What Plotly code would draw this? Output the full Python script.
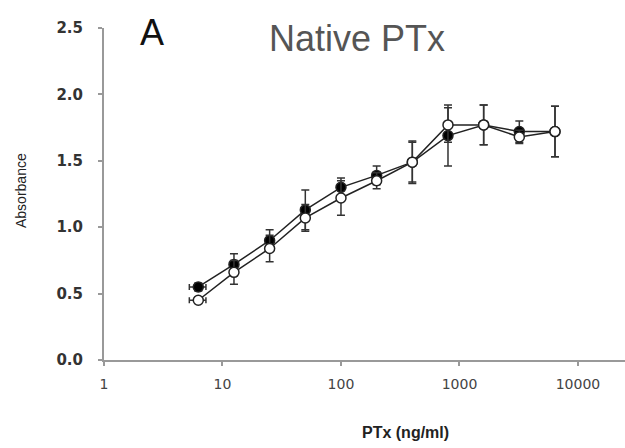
import plotly.graph_objects as go

conc = [6.25, 12.5, 25, 50, 100, 200, 400, 800, 1600, 3200, 6400]
filled_y = [0.55, 0.72, 0.90, 1.13, 1.30, 1.39, 1.49, 1.69, 1.77, 1.72, 1.72]
filled_err = [0.03, 0.08, 0.08, 0.15, 0.07, 0.07, 0.15, 0.23, 0.15, 0.08, 0.19]
open_y = [0.45, 0.66, 0.84, 1.07, 1.22, 1.35, 1.49, 1.77, 1.77, 1.68, 1.72]
open_err = [0.02, 0.09, 0.10, 0.10, 0.13, 0.06, 0.16, 0.13, 0.15, 0.05, 0.19]
conc_err = [1.0, 0, 0, 0, 0, 0, 0, 0, 0, 0, 0]
x_ticks = [1, 10, 100, 1000, 10000]
y_ticks = [0.0, 0.5, 1.0, 1.5, 2.0, 2.5]

ML, MR, MT, MB = 104, 0, 28, 88
W, H = 625, 448
pw, ph = W - ML - MR, H - MT - MB

def px(x, y):
    return (x - ML) / pw, 1 - (y - MT) / ph

fig = go.Figure()
for y, err, fill in [(filled_y, filled_err, "black"), (open_y, open_err, "white")]:
    fig.add_trace(go.Scatter(
        x=conc, y=y, mode="lines+markers",
        line=dict(color="#222", width=1.5),
        marker=dict(size=10, color=fill, line=dict(color="#222", width=1.5)),
        error_y=dict(type="data", array=err, visible=True, color="#333", thickness=1.5, width=4),
        error_x=dict(type="data", array=conc_err, visible=True, color="#333", thickness=1.5, width=3),
        showlegend=False, cliponaxis=False,
    ))

annotations = []
for text, x, y, size, color, family, angle in [
    ("A", 152, 33, 36, "#111", "Liberation Sans", 0),
    ("Native PTx", 357, 38, 36, "#555", "Liberation Sans", 0),
    ("<b>PTx (ng/ml)</b>", 405, 432, 16, "#222", "Liberation Sans", 0),
    ("Absorbance", 21, 191, 14, "#222", "Liberation Sans", -90),
]:
    ax, ay = px(x, y)
    annotations.append(dict(text=text, x=ax, y=ay, xref="paper", yref="paper", showarrow=False,
                            xanchor="center", yanchor="middle", textangle=angle,
                            font=dict(size=size, color=color, family=family)))

fig.update_layout(
    width=W, height=H,
    margin=dict(l=ML, r=MR, t=MT, b=MB),
    paper_bgcolor="white", plot_bgcolor="white",
    font=dict(family="Liberation Sans, Arial, sans-serif", color="#333"),
    xaxis=dict(type="log", range=[0, 4.397], tickvals=x_ticks, ticktext=[str(t) for t in x_ticks],
               showline=True, linecolor="#999", linewidth=2, ticks="outside", tickcolor="#999",
               ticklen=4, tickwidth=1.5, showgrid=False, zeroline=False, ticklabelstandoff=6,
               tickfont=dict(size=14, color="#444", family="DejaVu Sans")),
    yaxis=dict(range=[0, 2.5], tickvals=y_ticks, ticktext=[f"<b>{v:.1f}</b>" for v in y_ticks],
               showline=True, linecolor="#999", linewidth=2, ticks="outside", tickcolor="#999",
               ticklen=4, tickwidth=1.5, showgrid=False, zeroline=False, ticklabelstandoff=12,
               tickfont=dict(size=15, color="#333", family="DejaVu Sans")),
    annotations=annotations,
)
fig.write_html("out.html")
